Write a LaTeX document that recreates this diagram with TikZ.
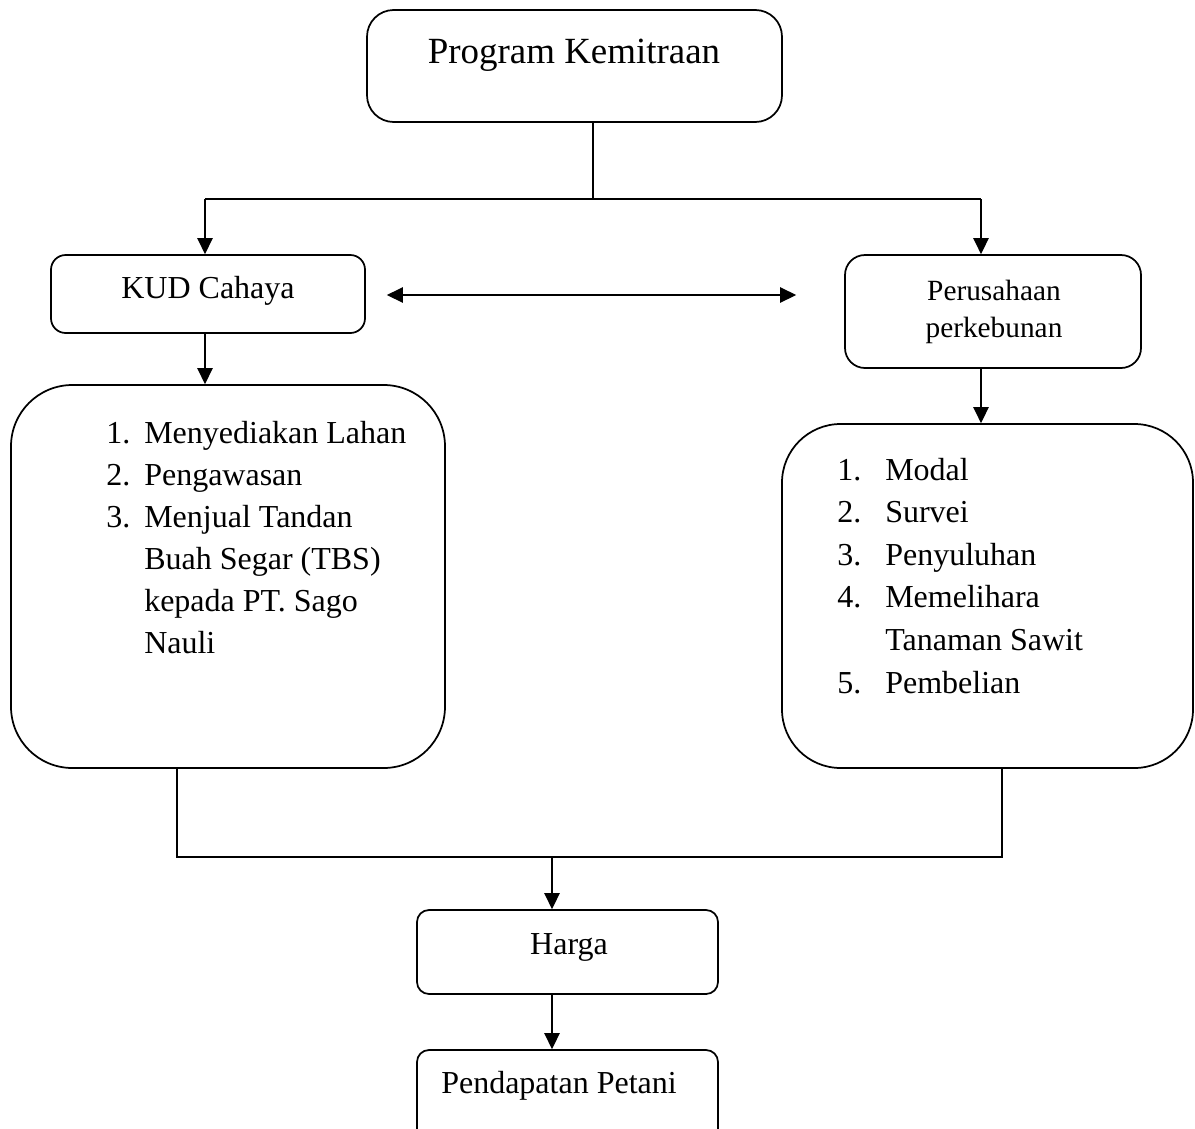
\documentclass[tikz,border=0pt]{standalone}
\usepackage{fontspec}
\setmainfont{Liberation Serif}
\usetikzlibrary{arrows.meta}
\begin{document}
\begin{tikzpicture}[x=0.75pt,y=-0.75pt,
  box/.style={draw, line width=1.3pt, rounded corners=#1, inner sep=0pt},
  conn/.style={line width=1.2pt},
  arr/.style={conn, -{Triangle[length=12pt,width=11.5pt]}},
  darr/.style={conn, {Triangle[length=12pt,width=11.5pt]}-{Triangle[length=12pt,width=11.5pt]}},
  txt/.style={font=\fontsize{24}{30}\selectfont, inner sep=0pt},
  bigtxt/.style={font=\fontsize{27.7}{34}\selectfont, inner sep=0pt},
  smtxt/.style={font=\fontsize{22}{27}\selectfont, inner sep=0pt}]
\clip (0,0) rectangle (1195,1128);
\fill[white] (0,0) rectangle (1195,1128);

% boxes
\node[box=20pt, minimum width=311.25pt, minimum height=84pt] (pk) at (574.5,66) {};
\node[box=11pt, minimum width=235.5pt, minimum height=58.5pt] (kud) at (208,294) {};
\node[box=15pt, minimum width=222pt, minimum height=84.75pt] (pp) at (993,311.5) {};
\node[box=46pt, minimum width=325.5pt, minimum height=287.25pt] (lb) at (228,576.5) {};
\node[box=44pt, minimum width=308.25pt, minimum height=258pt] (rb) at (987.5,596) {};
\node[box=9pt, minimum width=225.75pt, minimum height=63pt] (hg) at (567.5,952) {};
\node[box=9pt, minimum width=225.75pt, minimum height=82.5pt] (pd) at (567.5,1105) {};

% texts
\node[bigtxt, anchor=base] (pkt) at (574,63) {Program Kemitraan};
\node[txt, anchor=base] (kudt) at (208,298) {KUD Cahaya};
\node[smtxt, anchor=base] (ppt1) at (994,300) {Perusahaan};
\node[smtxt, anchor=base] (ppt2) at (994,337) {perkebunan};
\node[txt, anchor=base] (hgt) at (569,954) {Harga};
\node[txt, anchor=base] (pdt) at (559,1093) {Pendapatan Petani};

% left list
\node[txt, anchor=base west] (l1) at (106,443) {\makebox[28.5pt][l]{1.}Menyediakan Lahan};
\node[txt, anchor=base west] (l2) at (106,485) {\makebox[28.5pt][l]{2.}Pengawasan};
\node[txt, anchor=base west] (l3) at (106,527) {\makebox[28.5pt][l]{3.}Menjual Tandan};
\node[txt, anchor=base west] (l4) at (144,569) {Buah Segar (TBS)};
\node[txt, anchor=base west] (l5) at (144,611) {kepada PT. Sago};
\node[txt, anchor=base west] (l6) at (144,653) {Nauli};

% right list
\node[txt, anchor=base west] (r1) at (837,480) {\makebox[36pt][l]{1.}Modal};
\node[txt, anchor=base west] (r2) at (837,522.6) {\makebox[36pt][l]{2.}Survei};
\node[txt, anchor=base west] (r3) at (837,565.2) {\makebox[36pt][l]{3.}Penyuluhan};
\node[txt, anchor=base west] (r4) at (837,607.8) {\makebox[36pt][l]{4.}Memelihara};
\node[txt, anchor=base west] (r5) at (885,650.4) {Tanaman Sawit};
\node[txt, anchor=base west] (r6) at (837,693) {\makebox[36pt][l]{5.}Pembelian};

% junction coordinates
\coordinate (jt) at (593,199);
\coordinate (jl) at (205,199);
\coordinate (jr) at (981,199);
\coordinate (bl) at (177,857);
\coordinate (br) at (1002,857);
\coordinate (bm) at (552,857);

% connectors
\draw[conn] (pk.south -| jt) -- (jt);
\draw[conn] (jl) -- (jr);
\draw[arr] (jl) -- (jl |- kud.north);
\draw[arr] (jr) -- (jr |- pp.north);
\draw[darr] ([xshift=15.75pt]kud.east |- 0,295) -- ([xshift=-36pt]pp.west |- 0,295);
\draw[arr] (jl |- kud.south) -- (jl |- lb.north);
\draw[arr] (jr |- pp.south) -- (jr |- rb.north);
\draw[conn] (lb.south -| bl) -- (bl) -- (br) -- (rb.south -| br);
\draw[arr] (bm) -- (bm |- hg.north);
\draw[arr] (bm |- hg.south) -- (bm |- pd.north);
\end{tikzpicture}
\end{document}
